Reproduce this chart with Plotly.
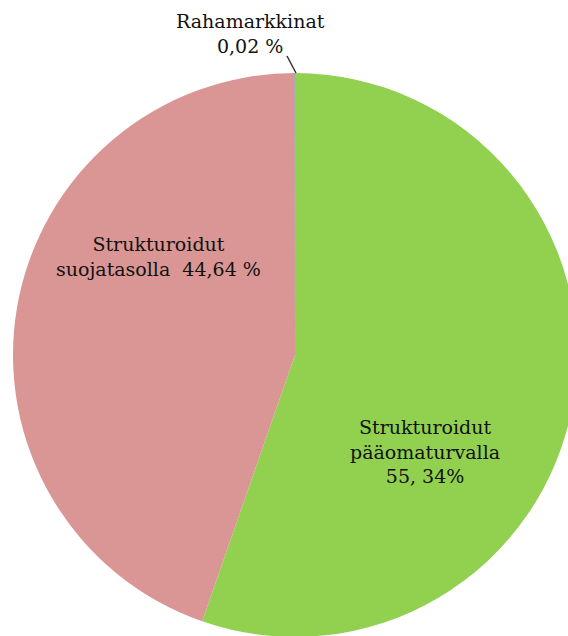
import plotly.graph_objects as go

categories = ["Strukturoidut pääomaturvalla", "Strukturoidut suojatasolla", "Rahamarkkinat"]
values = [55.34, 44.64, 0.02]
colors = ["#92D050", "#D99694", "#4F81BD"]
label_texts = ["Strukturoidut<br>pääomaturvalla<br>55, 34%",
               "Strukturoidut<br>suojatasolla  44,64 %",
               "Rahamarkkinat<br>0,02 %"]

W, H = 590, 640
FONT = dict(family="DejaVu Serif", size=19, color="#111111")

fig = go.Figure(go.Pie(
    labels=categories, values=values, sort=False, direction="clockwise",
    rotation=0, marker=dict(colors=colors, line=dict(width=0)),
    textinfo="none", hoverinfo="label+percent", showlegend=False,
    domain=dict(x=[0, 1], y=[3 / H, 567 / H]),
))

# label placement (pixel centres in the page)
label_pos = [(425, 451), (158, 256), (250, 34)]
for txt, (px, py) in zip(label_texts, label_pos):
    fig.add_annotation(x=px / W, y=1 - py / H, xref="paper", yref="paper",
                       text=txt, showarrow=False, font=FONT,
                       xanchor="center", yanchor="middle", align="center")

# leader line for the small slice
fig.add_shape(type="line", xref="paper", yref="paper",
              x0=287 / W, y0=1 - 56 / H, x1=296 / W, y1=1 - 73 / H,
              line=dict(color="#333333", width=1.5))

fig.update_layout(width=W, height=H, margin=dict(l=0, r=0, t=0, b=0),
                  paper_bgcolor="white", plot_bgcolor="white")

fig.write_html("out.html", config={"displayModeBar": False}, post_script=(
    "document.body.style.margin='0';"
    "document.body.style.overflow='hidden';"
    "document.documentElement.style.overflow='hidden';"))
